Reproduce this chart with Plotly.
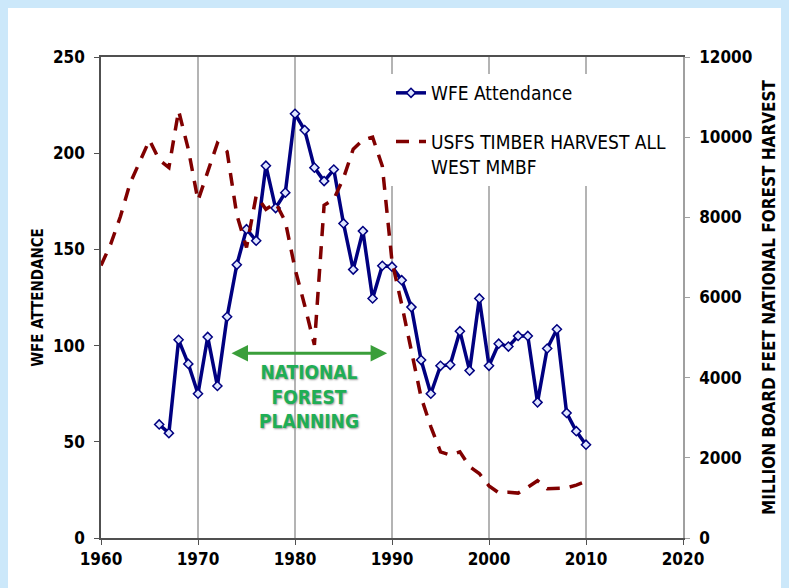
import plotly.graph_objects as go

# ---- data ----
wfe_years = list(range(1966, 2011))
wfe_attendance = [59, 54.5, 103, 90.5, 75, 104.5, 79, 115, 142, 160.5,
                  154.5, 193.5, 171.5, 179.5, 220.5, 212, 192.5, 185.5, 191.5, 163.5,
                  139.5, 159.5, 124.5, 141.5, 141, 134, 120, 92.5, 75, 89.5,
                  90, 107.5, 87, 124.5, 89.5, 101, 99.5, 105, 105, 70.5,
                  98.5, 108.5, 65, 55.5, 48.5]

harvest_years = list(range(1960, 2011))
harvest_mmbf = [6800, 7330, 8020, 8850, 9390, 9930, 9430, 9240, 10660, 9700,
                8420, 9150, 9850, 9640, 8060, 7250, 8540, 8200, 8360, 7900,
                6720, 5800, 4820, 8300, 8450, 8980, 9700, 9930, 10000, 9280,
                6900, 5830, 4650, 3510, 2780, 2150, 2070, 2150, 1780, 1610,
                1300, 1130, 1140, 1120, 1265, 1430, 1230, 1240, 1250, 1320,
                1410]

x_ticks = [1960, 1970, 1980, 1990, 2000, 2010, 2020]
left_ticks = [0, 50, 100, 150, 200, 250]
right_ticks = [0, 2000, 4000, 6000, 8000, 10000, 12000]

planning_start, planning_end, planning_level = 1973.3, 1989.5, 96

FONT = "DejaVu Sans Condensed, DejaVu Sans, sans-serif"

# figure sits 8px in from the page's top-left corner (body margin)
L, T, R, B = 93, 49, 114, 58
PW, PH = 789 - L - R, 588 - T - B

fig = go.Figure()

fig.add_trace(go.Scatter(
    x=wfe_years, y=wfe_attendance, name="WFE Attendance",
    mode="lines+markers", legendgroup="a",
    line=dict(color="#000080", width=3.5),
    marker=dict(symbol="diamond", size=7, color="#dfe6ff",
                line=dict(color="#000080", width=1.5)),
))

fig.add_trace(go.Scatter(
    x=harvest_years, y=harvest_mmbf, name="USFS TIMBER HARVEST ALL<br>WEST MMBF",
    mode="lines", yaxis="y2", legendgroup="b",
    line=dict(color="#800000", width=3.5, dash="13px,10px"),
))

fig.add_annotation(
    x=planning_end, y=planning_level, ax=planning_start, ay=planning_level,
    xref="x", yref="y", axref="x", ayref="y", text="",
    showarrow=True, arrowhead=2, startarrowhead=2, arrowside="end+start",
    arrowsize=1.1, arrowwidth=3, arrowcolor="#3a9e3a",
)
fig.add_annotation(
    x=(planning_start + planning_end) / 2, y=planning_level - 3, xref="x", yref="y",
    text="NATIONAL<br>FOREST<br>PLANNING", showarrow=False, yanchor="top",
    font=dict(family=FONT, size=19, color="#1fae55", weight="bold",
              shadow="1px 1px 2px #999999"),
)

fig.update_layout(
    width=789, height=588,
    margin=dict(l=L, r=R, t=T, b=B),
    paper_bgcolor="white", plot_bgcolor="white",
    font=dict(family=FONT, color="#000000"),
    showlegend=True,
    legend=dict(x=290 / PW, y=1 - 17 / PH, xanchor="left", yanchor="top",
                bgcolor="white", borderwidth=0, font=dict(size=19, family=FONT),
                tracegroupgap=21, valign="top", itemwidth=30),
    xaxis=dict(range=[1960, 2020], tickvals=x_ticks, showgrid=True,
               gridcolor="#b4b4b4", gridwidth=1.5, zeroline=False,
               showline=True, linecolor="#505050", linewidth=1.5, mirror=True,
               ticks="outside", ticklen=5, tickcolor="#505050",
               tickfont=dict(size=17, family=FONT, weight="bold")),
    yaxis=dict(range=[0, 250], tickvals=left_ticks, showgrid=False, zeroline=False,
               showline=True, linecolor="#505050", linewidth=1.5,
               ticks="outside", ticklen=5, tickcolor="#505050", ticklabelstandoff=6,
               tickfont=dict(size=17, family=FONT, weight="bold"),
               title=dict(text="WFE ATTENDANCE", standoff=6,
                          font=dict(size=15, family=FONT, weight="bold"))),
    yaxis2=dict(range=[0, 12000], tickvals=right_ticks, tickformat="d",
                overlaying="y", side="right",
                showgrid=False, zeroline=False,
                showline=True, linecolor="#a0a0a0", linewidth=1.5,
                ticks="outside", ticklen=5, tickcolor="#a0a0a0", ticklabelstandoff=6,
                tickfont=dict(size=17, family=FONT, weight="bold"),
                title=dict(text="MILLION BOARD FEET NATIONAL FOREST HARVEST", standoff=12,
                           font=dict(size=17, family=FONT, weight="bold"))),
)

fig.write_html("out.html",
               post_script="document.body.style.background='#cce8fa';")
